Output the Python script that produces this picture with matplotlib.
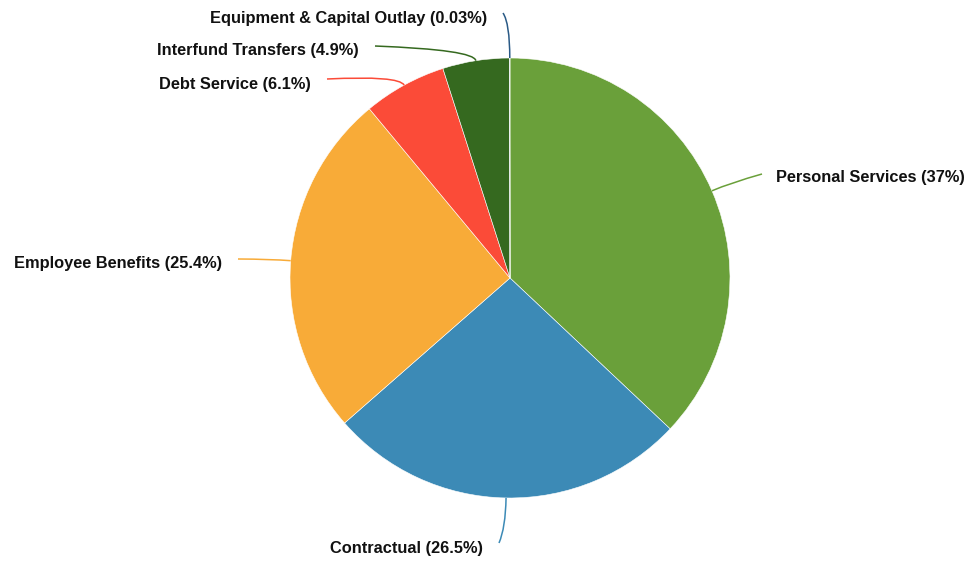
"""
Budget by expense category, drawn as a pie with callout labels.
"""
import numpy as np
import matplotlib.pyplot as plt
from matplotlib.path import Path
from matplotlib.patches import PathPatch

categories = ['Personal Services', 'Contractual', 'Employee Benefits',
              'Debt Service', 'Interfund Transfers',
              'Equipment & Capital Outlay']
shares = [37, 26.5, 25.4, 6.1, 4.9, 0.03]  # percent
share_labels = ['37%', '26.5%', '25.4%', '6.1%', '4.9%', '0.03%']

colors = ['#6aa03a', '#3c8ab6', '#f8ab38', '#fb4b38', '#35691f', '#2a5a86']

W, H = 972, 561
cx, cy, R = 510, 283, 220

# label anchor (x, y, ha), connector end point and radial run before the bend
label_pos = [(776, 384, 'left'), (483, 12, 'right'), (222, 298, 'right'),
             (311, 477, 'right'), (359, 511, 'right'), (487, 543, 'right')]
line_end = [(762, 387), (499, 18), (238, 302), (327, 482), (375, 515),
            (503, 548)]
radial_run = [20, 30, 20, 11, 11, 35]

fig = plt.figure(figsize=(W/100, H/100), dpi=100)
ax = fig.add_axes([0, 0, 1, 1])
ax.set_xlim(0, W)
ax.set_ylim(0, H)
ax.set_aspect('equal')
ax.axis('off')

wedges, _ = ax.pie(shares, colors=colors, startangle=90, counterclock=False,
                   center=(cx, cy), radius=R, normalize=True,
                   wedgeprops=dict(edgecolor='white', linewidth=0.4))
ax.set_xlim(0, W)
ax.set_ylim(0, H)

for i, w in enumerate(wedges):
    mid = np.deg2rad((w.theta1 + w.theta2) / 2)
    p0 = (cx + R*np.cos(mid), cy + R*np.sin(mid))
    p1 = (cx + (R + radial_run[i])*np.cos(mid),
          cy + (R + radial_run[i])*np.sin(mid))
    path = Path([p0, p1, line_end[i]], [Path.MOVETO, Path.CURVE3, Path.CURVE3])
    ax.add_patch(PathPatch(path, facecolor='none', edgecolor=colors[i],
                           linewidth=1.1))
    x, y, ha = label_pos[i]
    ax.text(x, y, f'{categories[i]} ({share_labels[i]})', ha=ha, va='center',
            fontsize=11.8, fontweight='bold', family='Liberation Sans',
            color='#111111')

fig.savefig('out.png', dpi=100)
